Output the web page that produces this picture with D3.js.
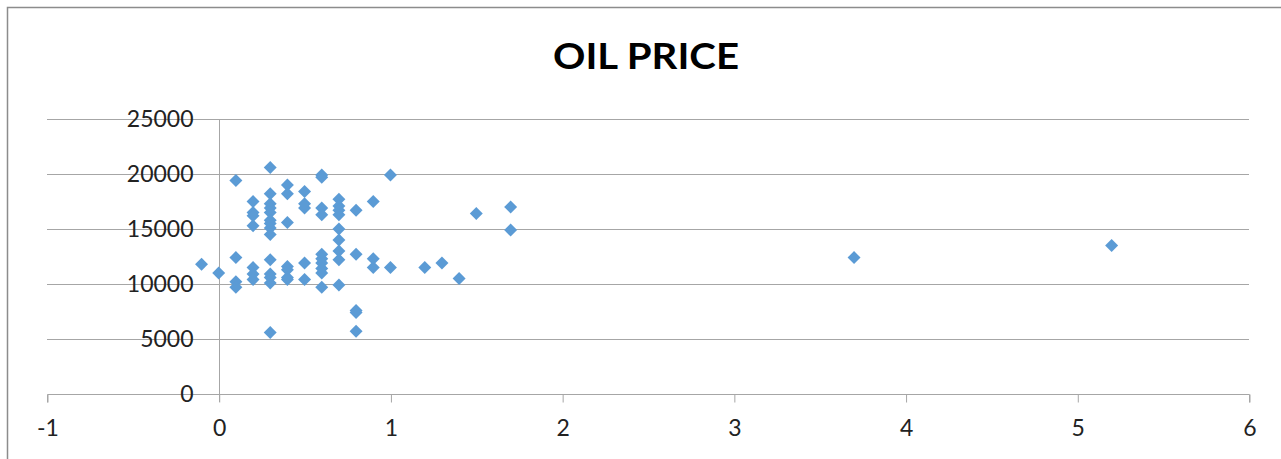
<!DOCTYPE html>
<html>
<head>
<meta charset="utf-8">
<script src="https://cdn.jsdelivr.net/npm/d3@7"></script>
<style>
  html, body { margin: 0; padding: 0; background: #fff; }
  svg { display: block; }
</style>
</head>
<body>
<svg id="chart" width="1281" height="459"></svg>
<script>
const title = "OIL PRICE";
const xTicks = [-1, 0, 1, 2, 3, 4, 5, 6];
const yTicks = [0, 5000, 10000, 15000, 20000, 25000];

const xValues = [
  -0.1,
  0,
  0.1, 0.1, 0.1, 0.1,
  0.2, 0.2, 0.2, 0.2, 0.2, 0.2, 0.2,
  0.3, 0.3, 0.3, 0.3, 0.3, 0.3, 0.3, 0.3, 0.3, 0.3, 0.3, 0.3, 0.3, 0.3,
  0.4, 0.4, 0.4, 0.4, 0.4, 0.4, 0.4,
  0.5, 0.5, 0.5, 0.5, 0.5,
  0.6, 0.6, 0.6, 0.6, 0.6, 0.6, 0.6, 0.6, 0.6, 0.6,
  0.7, 0.7, 0.7, 0.7, 0.7, 0.7, 0.7, 0.7, 0.7,
  0.8, 0.8, 0.8, 0.8, 0.8,
  0.9, 0.9, 0.9,
  1.0, 1.0,
  1.2,
  1.3,
  1.4,
  1.5,
  1.7, 1.7,
  3.7,
  5.2
];
const yValues = [
  11800,
  11000,
  19400, 12400, 10200, 9700,
  17500, 16500, 16200, 15300, 11500, 10900, 10400,
  20600, 18200, 17300, 16900, 16500, 15800, 15500, 15100, 14500, 12200, 10900, 10600, 10100, 5600,
  19000, 18200, 15600, 11600, 11300, 10600, 10400,
  18400, 17300, 16900, 11900, 10400,
  19900, 19700, 16900, 16300, 12700, 12300, 11900, 11400, 11000, 9700,
  17700, 17100, 16700, 16300, 15000, 14000, 13000, 12200, 9900,
  16700, 12700, 7600, 7400, 5700,
  17500, 12300, 11500,
  19900, 11500,
  11500,
  11900,
  10500,
  16400,
  17000, 14900,
  12400,
  13500
];

const data = xValues.map((x, i) => ({ x, y: yValues[i] }));

const svg = d3.select("#chart");
const W = 1281, H = 459;
const plot = { left: 47, right: 1249, top: 119, bottom: 394 };

const x = d3.scaleLinear().domain([-1, 6]).range([plot.left, plot.right]);
const y = d3.scaleLinear().domain([0, 25000]).range([plot.bottom, plot.top]);

// chart border
svg.append("rect")
  .attr("x", 7.5).attr("y", 7.5)
  .attr("width", W + 10).attr("height", H + 10)
  .attr("fill", "none")
  .attr("stroke", "#8c8c8c")
  .attr("stroke-width", 1.5);

// title
svg.append("text")
  .attr("x", 646).attr("y", 69)
  .attr("text-anchor", "middle")
  .attr("font-family", "Lato, 'Open Sans', sans-serif")
  .attr("font-weight", "bold")
  .attr("font-size", 36)
  .attr("textLength", 186)
  .attr("lengthAdjust", "spacingAndGlyphs")
  .attr("fill", "#000")
  .text(title);

// horizontal gridlines
svg.append("g")
  .selectAll("line")
  .data(yTicks.filter(d => d !== 0))
  .join("line")
  .attr("x1", plot.left).attr("x2", plot.right)
  .attr("y1", d => Math.round(y(d)) + 0.5).attr("y2", d => Math.round(y(d)) + 0.5)
  .attr("stroke", "#a6a6a6")
  .attr("stroke-width", 1);

// x axis (at y = 0)
const xAxis = d3.axisBottom(x).tickValues(xTicks).tickSize(8).tickPadding(17)
  .tickFormat(d => String(d));
const gx = svg.append("g")
  .attr("transform", `translate(0.5,${Math.round(y(0)) + 0.5})`)
  .call(xAxis);
gx.select(".domain").attr("stroke", "#a6a6a6").attr("d", `M${plot.left},8V0H${plot.right}V8`);
gx.selectAll(".tick line").attr("stroke", "#a6a6a6");
gx.selectAll(".tick text")
  .attr("font-family", "Lato, sans-serif")
  .attr("font-size", 23)
  .attr("fill", "#222");

// y axis (at x = 0)
const yAxis = d3.axisLeft(y).tickValues(yTicks).tickSize(0).tickPadding(26)
  .tickFormat(d => String(d));
const gy = svg.append("g")
  .attr("transform", `translate(${Math.round(x(0)) + 0.5},0)`)
  .call(yAxis);
gy.select(".domain").attr("stroke", "#a6a6a6").attr("d", `M0,${plot.top}V${plot.bottom + 8}`);
gy.selectAll(".tick text")
  .attr("font-family", "Lato, sans-serif")
  .attr("font-size", 23)
  .attr("fill", "#222");

// points
const diamond = d3.symbol().type(d3.symbolSquare).size(84);
svg.append("g")
  .selectAll("path")
  .data(data)
  .join("path")
  .attr("d", diamond)
  .attr("transform", d => `translate(${x(d.x)},${y(d.y)}) rotate(45)`)
  .attr("fill", "#5b9bd5");
</script>
</body>
</html>
